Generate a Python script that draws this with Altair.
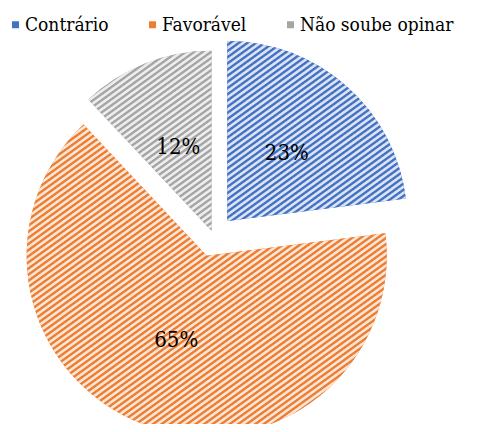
import math
import altair as alt
import pandas as pd

# ---- data ----
categories = ["Contrário", "Favorável", "Não soube opinar"]
values = [23, 65, 12]

# ---- style ----
solid_colors = ["#4472C4", "#ED7D31", "#A5A5A5"]
light_colors = ["#DAE3F3", "#FBE5D6", "#EDEDED"]
RADIUS = 180
FONT = "DejaVu Serif Condensed"
FONT2 = "DejaVu Serif Condensed"

df = pd.DataFrame({"category": categories, "value": values})


def sector_bbox(a0, a1, r):
    pts = [(0.0, 0.0), (r * math.sin(a0), -r * math.cos(a0)), (r * math.sin(a1), -r * math.cos(a1))]
    for k in range(5):
        a = k * math.pi / 2
        if a0 < a < a1:
            pts.append((r * math.sin(a), -r * math.cos(a)))
    xs = [p[0] for p in pts]
    ys = [p[1] for p in pts]
    return max(xs) - min(xs), max(ys) - min(ys)


def stripe_gradient(fg, bg, w, h, slope=0.72, period=5.0):
    L = w * slope + h
    alpha, beta = w * slope / L, h / L
    n2 = alpha ** 2 + beta ** 2
    x2, y2 = alpha / n2, beta / n2
    N = max(1, round(L / (period * math.sqrt(slope ** 2 + 1))))
    stops = []
    s = 1.0 / N
    for i in range(N):
        o = i * s
        stops += [(o, bg), (o + 0.35 * s, bg), (o + 0.5 * s, fg), (o + 0.8 * s, fg)]
    stops.append((1.0, bg))
    return {
        "gradient": "linear",
        "x1": 0, "y1": 0, "x2": x2, "y2": y2,
        "stops": [{"offset": min(1.0, round(o, 6)), "color": c} for o, c in stops],
    }


total = sum(values)
cum = 0
gradients = []
for v, fg, bg in zip(values, solid_colors, light_colors):
    a0 = 2 * math.pi * cum / total
    cum += v
    a1 = 2 * math.pi * cum / total
    w, h = sector_bbox(a0, a1, RADIUS)
    gradients.append(stripe_gradient(fg, bg, w, h))

order_expr = "indexof(['" + "','".join(categories) + "'], datum.category)"

base = (
    alt.Chart(df)
    .transform_calculate(ord=order_expr)
    .transform_joinaggregate(total="sum(value)")
    .transform_window(cum="sum(value)", sort=[alt.SortField("ord")], frame=[None, 0])
    .transform_calculate(
        t1="2*PI*datum.cum/datum.total",
        t0="2*PI*(datum.cum-datum.value)/datum.total",
    )
    .transform_calculate(
        mid="(datum.t0+datum.t1)/2",
        d="datum.category == 'Não soube opinar' ? 6 : 20.6",
        label="datum.value + '%'",
    )
    .transform_calculate(
        cx="205.7 + datum.d*sin(datum.mid)",
        cy="228.4 - datum.d*cos(datum.mid)",
    )
)

pos = dict(
    x=alt.X("cx:Q", scale=None),
    y=alt.Y("cy:Q", scale=None),
    theta=alt.Theta("t0:Q", scale=None),
    theta2=alt.Theta2("t1:Q"),
)

solid = base.mark_arc(radius=RADIUS, stroke=None).encode(
    color=alt.Color(
        "category:N",
        scale=alt.Scale(domain=categories, range=solid_colors),
        legend=alt.Legend(
            orient="none",
            legendX=-2,
            legendY=7,
            direction="horizontal",
            columns=3,
            title=None,
            labelFont=FONT,
            labelFontSize=19,
            labelColor="black",
            symbolType="square",
            symbolSize=49,
            symbolStrokeWidth=0,
            labelOffset=0,
            columnPadding=34,
            labelLimit=400,
        ),
    ),
    **pos,
)

stripe_layers = [
    base.transform_filter(alt.datum.category == cat)
    .mark_arc(radius=RADIUS, fill=grad, stroke=None)
    .encode(**pos)
    for cat, grad in zip(categories, gradients)
]

labels = base.mark_text(
    font=FONT2, fontSize=22, color="black", align="center", baseline="middle"
).encode(
    x=alt.X("cx:Q", scale=None),
    y=alt.Y("cy:Q", scale=None),
    theta=alt.Theta("mid:Q", scale=None),
    radius=alt.value(90),
    text="label:N",
)

chart = (
    alt.layer(solid, *stripe_layers, labels)
    .properties(width=462, height=416, padding=0, autosize=alt.AutoSizeParams(type="none"), background="white")
    .configure_view(stroke=None)
)

chart.save("out.html", embed_options={"renderer": "svg", "actions": False})
